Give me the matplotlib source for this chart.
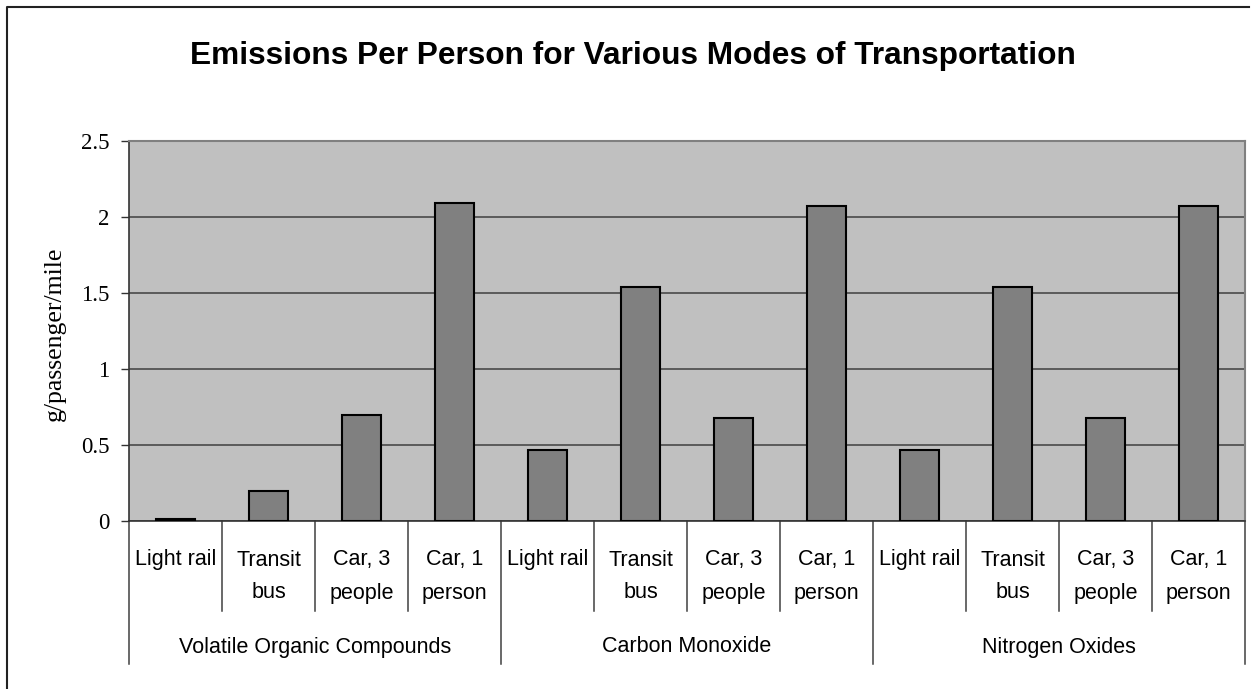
import matplotlib
matplotlib.use('Agg')
import matplotlib.pyplot as plt
from matplotlib.lines import Line2D
import numpy as np

# data
groups = ['Volatile Organic Compounds', 'Carbon Monoxide', 'Nitrogen Oxides']
modes = ['Light rail', 'Transit\nbus', 'Car, 3\npeople', 'Car, 1\nperson']
voc = [0.01, 0.20, 0.70, 2.09]
co = [0.47, 1.54, 0.68, 2.07]
nox = [0.47, 1.54, 0.68, 2.07]
yticks = [0, 0.5, 1, 1.5, 2, 2.5]

W, H = 1256, 689
fig = plt.figure(figsize=(W / 100, H / 100), dpi=100)
fig.patch.set_facecolor('white')

x0, x1, ytop, ybot = 129, 1245, 141, 521
ax = fig.add_axes([x0 / W, 1 - ybot / H, (x1 - x0) / W, (ybot - ytop) / H])
ax.set_facecolor('#c0c0c0')

values = voc + co + nox
xpos = np.arange(len(values))
ax.bar(xpos, values, width=0.42, color='#808080', edgecolor='black',
       linewidth=1.5, zorder=3)

ax.set_xlim(-0.5, len(values) - 0.5)
ax.set_ylim(0, 2.5)
ax.set_yticks(yticks)
ax.set_yticklabels(['0', '0.5', '1', '1.5', '2', '2.5'],
                   family='Liberation Serif', fontsize=16.5)
ax.tick_params(axis='y', direction='out', length=6, width=1, pad=8,
               color='#333333')
ax.set_xticks([])
ax.grid(axis='y', color='#404040', linewidth=1.1, zorder=1)
ax.set_axisbelow(True)

for s in ['left', 'bottom']:
    ax.spines[s].set_color('#333333')
    ax.spines[s].set_linewidth(1.2)
for s in ['top', 'right']:
    ax.spines[s].set_color('#808080')
    ax.spines[s].set_linewidth(1.5)

# hierarchical category axis
tr = ax.get_xaxis_transform()
ah = ybot - ytop
inner_end = -(611 - ybot) / ah
outer_end = -(664 - ybot) / ah
for k in range(len(values) + 1):
    end = outer_end if k % len(modes) == 0 else inner_end
    ax.add_line(Line2D([k - 0.5, k - 0.5], [0, end], transform=tr,
                       color='#404040', linewidth=1.1, clip_on=False))

line1 = -(560 - ybot) / ah
dline = 33 / ah
for i, x in enumerate(xpos):
    for j, part in enumerate(modes[i % len(modes)].split('\n')):
        ax.text(x, line1 - j * dline, part, transform=tr, ha='center',
                va='center', family='Liberation Sans', fontsize=15.5)

grp_y = -(647 - ybot) / ah
for g, name in enumerate(groups):
    xc = g * len(modes) + (len(modes) - 1) / 2
    ax.text(xc, grp_y, name, transform=tr, ha='center', va='center',
            family='Liberation Sans', fontsize=15.5)

fig.text(55 / W, 1 - 334 / H, 'g/passenger/mile', rotation=90,
         ha='center', va='center', family='Liberation Serif', fontsize=18.5)

fig.text(633 / W, 1 - 64 / H,
         'Emissions Per Person for Various Modes of Transportation',
         ha='center', va='baseline', family='Liberation Sans',
         fontweight='bold', fontsize=22.8)

# outer chart border (left and top visible)
fig.add_artist(Line2D([7 / W, 7 / W, 1249 / W], [0, 1 - 7 / H, 1 - 7 / H],
                      transform=fig.transFigure, color='#222222',
                      linewidth=1.5))

fig.savefig('out.png', dpi=100)
